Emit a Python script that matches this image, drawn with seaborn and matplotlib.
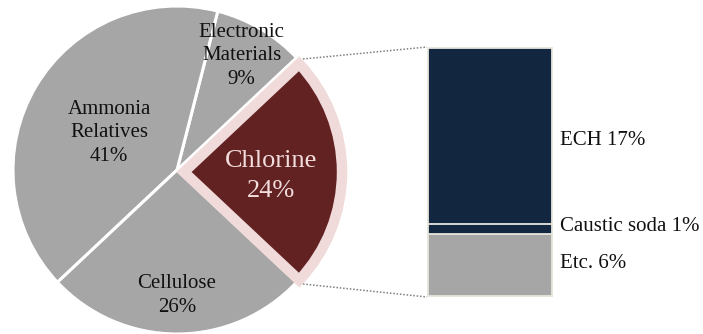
import numpy as np
import pandas as pd
import matplotlib
matplotlib.use("Agg")
import matplotlib.pyplot as plt
import seaborn as sns

# ---- data ----
segments = ["Chlorine", "Electronic\nMaterials", "Ammonia\nRelatives", "Cellulose"]
segment_share = [24, 9, 41, 26]
chlorine_parts = ["ECH", "Caustic soda", "Etc."]
chlorine_share = [17, 1, 6]

# ---- style ----
sns.set_theme(style="white")
plt.rcParams["font.family"] = ["Liberation Serif", "DejaVu Serif"]

GREY = "#a6a6a6"
RED = "#622222"
PINK = "#f0dada"
NAVY = "#13263f"
EDGE = "#e6e6dc"

W, H = 703, 334
fig = plt.figure(figsize=(W / 100, H / 100), dpi=100)
fig.patch.set_facecolor("white")
ax = fig.add_axes([0, 0, 1, 1])

# pie (pixel-based data coordinates, y up)
cx, cy, R = 177, H - 170, 164
wedges, _ = ax.pie(
    segment_share,
    startangle=-segment_share[0] / 100 * 360 / 2,
    counterclock=True,
    center=(cx, cy),
    radius=R,
    colors=[RED, GREY, GREY, GREY],
    wedgeprops=dict(edgecolor="white", linewidth=2.2),
    frame=True,
)
chl = wedges[0]
chl.set_center((cx + 7, cy - 2))
chl.set_radius(158)
chl.set_edgecolor(PINK)
chl.set_linewidth(7.5)
chl.set_zorder(5)

ax.set_xlim(0, W)
ax.set_ylim(0, H)
ax.set_aspect("equal")
ax.axis("off")

# labels on pie (distance fraction and small pixel nudges)
dists = [0.55, 0.81, 0.48, 0.765]
nudges = [(0, -4), (-3, 0), (0, -3), (0, 0)]
for i, (w, name, v) in enumerate(zip(wedges, segments, segment_share)):
    mid = np.deg2rad((w.theta1 + w.theta2) / 2)
    c = w.center
    r = w.r * dists[i]
    x = c[0] + r * np.cos(mid) + nudges[i][0]
    y = c[1] + r * np.sin(mid) + nudges[i][1]
    if i == 0:
        ax.text(x, y, f"{name}\n{v}%", ha="center", va="center",
                fontsize=19, color="#f2dcdc", linespacing=1.42, zorder=6)
    else:
        ax.text(x, y, f"{name}\n{v}%", ha="center", va="center",
                fontsize=15, color="#111111", linespacing=1.33, zorder=6)

# breakdown bar
bx0, bx1, by0, by1 = 428, 552, H - 296, H - 48
bax = fig.add_axes([bx0 / W, by0 / H, (bx1 - bx0) / W, (by1 - by0) / H])
bottoms = np.cumsum(chlorine_share[::-1])  # from the bottom: Etc, Caustic, ECH
tops = bottoms[::-1]                        # ECH top, Caustic top, Etc top
seg_colors = [NAVY, NAVY, GREY]
for top, col in zip(tops, seg_colors):
    df = pd.DataFrame({"grp": ["Chlorine"], "share": [top]})
    sns.barplot(data=df, x="grp", y="share", color=col, saturation=1,
                width=1.0, edgecolor=EDGE, linewidth=1.3, ax=bax)
for p in bax.patches:
    p.set_clip_on(False)
bax.set_xlim(-0.5, 0.5)
bax.set_ylim(0, sum(chlorine_share))
bax.axis("off")

# bar labels
lows = tops - np.array(chlorine_share)
offsets = [-5, 2, 1]
for name, v, lo, hi, off in zip(chlorine_parts, chlorine_share, lows, tops, offsets):
    bax.annotate(f"{name} {v}%", xy=(0.5, (lo + hi) / 2), xycoords="data",
                 xytext=(8, off), textcoords="offset pixels",
                 ha="left", va="center", fontsize=15, color="#111111",
                 annotation_clip=False)

# dotted connector lines
ax.plot([303, bx0 - 1], [H - 59, by1 + 1], linestyle=(0, (1, 1.2)),
        color="#7f7f7f", linewidth=1.1, zorder=1)
ax.plot([303, bx0 - 1], [H - 284, by0 - 1], linestyle=(0, (1, 1.2)),
        color="#7f7f7f", linewidth=1.1, zorder=1)

fig.savefig("out.png", dpi=100, facecolor="white")
